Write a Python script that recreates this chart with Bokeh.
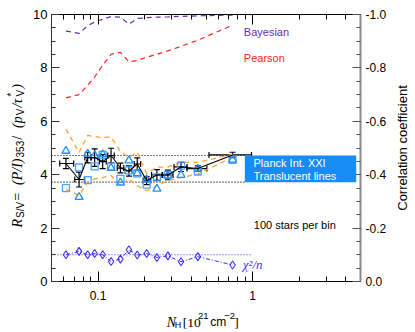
import math
from bokeh.plotting import figure
from bokeh.layouts import row, column
from bokeh.models import (Range1d, LinearAxis, LogAxis, FixedTicker, PrintfTickFormatter,
                          CustomJSTickFormatter, Label, BoxAnnotation, Whisker, TeeHead,
                          ColumnDataSource)
from bokeh.embed import file_html
from bokeh.resources import INLINE

# ---------------- data ----------------
nh = [0.0620, 0.0754, 0.0857, 0.0951, 0.1072, 0.1215, 0.1397, 0.1585,
      0.1795, 0.2065, 0.2405, 0.2834, 0.3446, 0.4430, 0.7430]
nh_lo = [0.0565, 0.0707, 0.0822, 0.0905, 0.1020, 0.1157, 0.1332, 0.1500,
         0.1716, 0.1960, 0.2222, 0.2617, 0.3102, 0.3765, 0.5228]
nh_hi = [0.0696, 0.0820, 0.0899, 0.0997, 0.1131, 0.1274, 0.1467, 0.1664,
         0.1888, 0.2193, 0.2596, 0.3058, 0.3768, 0.5064, 0.9853]
rs = [4.42, 3.82, 4.64, 4.64, 4.49, 4.72, 4.25, 4.14, 4.40, 3.78, 3.99,
      3.99, 4.29, 4.23, 4.74]
rs_err = [0.19, 0.28, 0.20, 0.33, 0.26, 0.27, 0.18, 0.19, 0.23, 0.15, 0.20,
          0.18, 0.17, 0.10, 0.10]
rs_squares = [3.50, 4.27, 3.80, 4.31, 4.74, 4.31, 3.84, 4.16, 4.05, 3.63,
              3.90, 3.99, 4.34, 4.12, 4.56]
rs_triangles = [4.89, 3.16, 4.78, 4.72, 4.76, 4.25, 3.70, 4.53, 4.05, 3.82,
                3.47, 3.97, 3.99, 4.22, 4.56]
rs_orange_hi = [5.71, 4.83, 5.47, 5.43, 5.39, 5.41, 4.87, 4.64, 4.84, 4.04,
                4.28, 4.29, 4.47, 4.46, 4.77]
rs_orange_lo = [3.45, 3.22, 3.72, 3.84, 3.89, 3.97, 3.59, 3.84, 3.59, 3.40,
                3.59, 3.78, 3.89, 4.03, 4.65]
corr_bayes = [-0.938, -0.929, -0.958, -0.972, -0.982, -0.992, -0.990, -0.964,
              -0.985, -0.988, -0.990, -0.991, -0.993, -0.995, -0.998]
corr_pearson = [-0.688, -0.700, -0.735, -0.766, -0.810, -0.851, -0.858, -0.823,
                -0.828, -0.840, -0.851, -0.864, -0.881, -0.904, -0.960]
chi2_n = [1.00, 1.13, 1.00, 1.05, 1.00, 0.75, 0.84, 1.19, 0.99, 1.05, 0.90,
          0.96, 0.74, 0.93, 0.62]
chi2_ref = 1.0
chi2_ref_nh = [0.05, 1.0]
planck_rs = [3.72, 4.72]
planck_line_nh = [0.05, 0.892]
planck_box_nh = [0.892, 4.69]

x_ticks = [0.1, 1]
x_minor = [0.06, 0.07, 0.08, 0.09, 0.2, 0.3, 0.4, 0.5, 0.6, 0.7, 0.8, 0.9,
           2, 3, 4, 5]
y_ticks = [0, 2, 4, 6, 8, 10]
y_minor = [i * 0.5 for i in range(21)]
corr_ticks = [-1.0, -0.8, -0.6, -0.4, -0.2, 0.0]
corr_minor = [-i * 0.05 for i in range(21)]

# ---------------- styling ----------------
SANS = "Liberation Sans"
SERIF = "Liberation Serif"
ORANGE = "#ffa22e"
SQ_BLUE = "#4aa3ff"
TRI_BLUE = "#1f8fff"
CHI_BLUE = "#3c30ff"
BAYES = "#6c2bb0"
PEARSON = "#ff2424"
BOX_BLUE = "#178cf5"

# page geometry
LEFT_W, MAIN_W, RIGHT_W = 26, 365, 23
MAIN_H, BOTTOM_H = 305, 26
TOTAL_H = MAIN_H + BOTTOM_H

p = figure(width=MAIN_W, height=MAIN_H, x_axis_type="log",
           x_range=Range1d(0.05, 5), y_range=Range1d(0, 10),
           output_backend="svg", toolbar_location=None,
           min_border_left=25, min_border_right=31,
           min_border_top=14, min_border_bottom=24)
p.extra_y_ranges = {"corr": Range1d(0.0, -1.0)}
p.xgrid.grid_line_color = None
p.ygrid.grid_line_color = None
p.background_fill_color = "white"
p.border_fill_color = "white"
p.outline_line_color = "black"
p.outline_line_width = 1

xa = p.xaxis[0]
xa.ticker = FixedTicker(ticks=x_ticks, minor_ticks=x_minor)
xa.formatter = CustomJSTickFormatter(code="return String(Number(tick.toPrecision(6)))")
xa.major_tick_in = 10
xa.major_tick_out = 0
xa.minor_tick_in = 5
xa.minor_tick_out = 0
xa.major_label_standoff = 9
xa.major_label_text_font = SANS
xa.major_label_text_font_size = "12px"
xa.major_label_text_color = "black"
xa.axis_line_color = "black"
xa.major_tick_line_color = "black"
xa.minor_tick_line_color = "black"

ya = p.yaxis[0]
ya.ticker = FixedTicker(ticks=y_ticks, minor_ticks=y_minor)
ya.major_tick_in = 8
ya.major_tick_out = 0
ya.minor_tick_in = 4
ya.minor_tick_out = 0
ya.major_label_standoff = 4
ya.major_label_text_font = SANS
ya.major_label_text_font_size = "13px"
ya.major_label_text_color = "black"
ya.axis_line_color = "#333333"
ya.major_tick_line_color = "#333333"
ya.minor_tick_line_color = "#333333"

top = LogAxis(ticker=FixedTicker(ticks=x_ticks, minor_ticks=x_minor),
              major_label_text_font_size="1px", major_label_text_alpha=0.0,
              major_label_standoff=0,
              major_tick_in=10, major_tick_out=0, minor_tick_in=5, minor_tick_out=0,
              axis_line_color="black")
p.add_layout(top, "above")

ra = LinearAxis(y_range_name="corr",
                ticker=FixedTicker(ticks=corr_ticks, minor_ticks=corr_minor),
                formatter=PrintfTickFormatter(format="%.1f"),
                major_tick_in=8, major_tick_out=0, minor_tick_in=4, minor_tick_out=0,
                major_label_standoff=5, major_label_text_font=SANS,
                major_label_text_font_size="12px", major_label_text_color="black",
                axis_line_color="#8a8a8a", axis_line_width=2,
                major_tick_line_color="#555555", minor_tick_line_color="#555555")
p.add_layout(ra, "right")

# ---------------- glyphs ----------------
for v in planck_rs:
    p.line(planck_line_nh, [v, v], line_color="black", line_dash="1 2", line_width=1.2)

p.line(nh, corr_bayes, y_range_name="corr", line_color=BAYES, line_dash="5 4", line_width=1.2)
p.line(nh, corr_pearson, y_range_name="corr", line_color=PEARSON, line_dash="5 4", line_width=1.2)

p.line(nh, rs_orange_hi, line_color=ORANGE, line_dash="5 4", line_width=1.3)
p.line(nh, rs_orange_lo, line_color=ORANGE, line_dash="5 4", line_width=1.3)

p.line(chi2_ref_nh, [chi2_ref, chi2_ref], line_color=CHI_BLUE, line_dash="1 2", line_width=1.1)
p.line(nh, chi2_n, line_color=CHI_BLUE, line_dash="4 2 1 2", line_width=1.0)
p.scatter(nh, chi2_n, marker="diamond", size=8, fill_color=None,
          line_color=CHI_BLUE, line_width=1.1)

p.scatter(nh, rs_squares, marker="square", size=7, fill_color=None,
          line_color=SQ_BLUE, line_width=1.3)
p.scatter(nh, rs_triangles, marker="triangle", size=8, fill_color=None,
          line_color=TRI_BLUE, line_width=1.3)

p.line(nh, rs, line_color="black", line_width=1.1)

p.add_layout(BoxAnnotation(left=planck_box_nh[0], right=planck_box_nh[1],
                           bottom=planck_rs[0], top=planck_rs[1],
                           fill_color=BOX_BLUE, fill_alpha=1.0, line_alpha=0))

src = ColumnDataSource(dict(nh=nh, lo=nh_lo, hi=nh_hi, rs=rs,
                            up=[r + e for r, e in zip(rs, rs_err)],
                            dn=[r - e for r, e in zip(rs, rs_err)]))
p.add_layout(Whisker(source=src, base="nh", upper="up", lower="dn", dimension="height",
                     line_color="black", line_width=1.2,
                     upper_head=TeeHead(size=6, line_color="black", line_width=1.2),
                     lower_head=TeeHead(size=6, line_color="black", line_width=1.2)))
p.add_layout(Whisker(source=src, base="rs", upper="hi", lower="lo", dimension="width",
                     line_color="black", line_width=1.2,
                     upper_head=TeeHead(size=6, line_color="black", line_width=1.2),
                     lower_head=TeeHead(size=6, line_color="black", line_width=1.2)))


def dlabel(fig, x, y, text, color="black", size="11px", font=SANS, style="normal",
           baseline="middle", align="left", angle=0.0):
    fig.add_layout(Label(x=x, y=y, text=text, text_color=color, text_font=font,
                         text_font_size=size, text_font_style=style, angle=angle,
                         text_align=align, text_baseline=baseline))


dlabel(p, 0.879, 9.34, "Bayesian", BAYES)
dlabel(p, 0.879, 8.36, "Pearson", PEARSON)
dlabel(p, 1.015, 4.43, "Planck Int. XXI", "white")
dlabel(p, 1.015, 3.94, "Translucent lines", "white")
dlabel(p, 1.02, 2.13, "100 stars per bin", "black")
dlabel(p, 0.865, 0.63, "χ²/n", CHI_BLUE, size="13px", font=SERIF, style="italic",
       baseline="alphabetic")


# ---------------- auxiliary text panels (page-pixel coordinates) ----------------
def panel(w, h):
    f = figure(width=w, height=h, x_range=Range1d(0, w), y_range=Range1d(0, h),
               output_backend="svg", toolbar_location=None, min_border=0,
               x_axis_location=None, y_axis_location=None)
    f.grid.visible = False
    f.outline_line_color = None
    f.background_fill_color = "white"
    f.border_fill_color = "white"
    return f


# left: R_S/V = (P/I)_353 / (p_V / tau*_V)
left = panel(LEFT_W, TOTAL_H)
MAIN, SUB = 14, 10
base_x = 16.7
pieces = [("R", "it", 0.611), ("S/V", "sub", 1.612), (" = ", "rm", 1.064),
          ("(P/I)", "it", 1.888), ("353", "sub", 1.668), (" / ", "rm", 0.778),
          ("(p", "it", 0.833), ("V", "sub", 0.667), ("/τ", "it", 0.718),
          ("*|V", "supsub", 0.667), (")", "it", 0.333)]
yy = TOTAL_H - 227
gap = 1
ang = math.pi / 2
for text, kind, em in pieces:
    if kind == "it":
        dlabel(left, base_x, yy, text, size=f"{MAIN}px", font=SERIF, style="italic",
               baseline="alphabetic", angle=ang)
        yy += em * MAIN + gap
    elif kind == "rm":
        dlabel(left, base_x, yy, text, size=f"{MAIN}px", font=SERIF,
               baseline="alphabetic", angle=ang)
        yy += em * MAIN + gap
    elif kind == "sub":
        dlabel(left, base_x + 3, yy, text, size=f"{SUB}px", font=SANS,
               baseline="alphabetic", angle=ang)
        yy += em * SUB + gap
    else:
        sup, sub = text.split("|")
        dlabel(left, base_x - 6, yy, sup, size=f"{SUB}px", font=SANS,
               baseline="alphabetic", angle=ang)
        dlabel(left, base_x + 3, yy, sub, size=f"{SUB}px", font=SANS,
               baseline="alphabetic", angle=ang)
        yy += em * SUB + gap

# right: Correlation coefficient
right = panel(RIGHT_W, TOTAL_H)
dlabel(right, 402 - (LEFT_W + MAIN_W), TOTAL_H - 147.5, "Correlation coefficient",
       size="13px", baseline="alphabetic", align="center", angle=ang)

# bottom: N_H [10^21 cm^-2]
bottom = panel(MAIN_W, BOTTOM_H)
bx0 = LEFT_W
by = TOTAL_H - 321.5
dlabel(bottom, 162 - bx0, by, "N", size="14px", font=SERIF, style="italic", baseline="alphabetic")
dlabel(bottom, 171.5 - bx0, by - 3, "H", size="9px", baseline="alphabetic")
dlabel(bottom, 181 - bx0, by, "[10", size="13.5px", font=SERIF, baseline="alphabetic")
dlabel(bottom, 199 - bx0, by + 6, "21", size="9.5px", baseline="alphabetic")
dlabel(bottom, 213.5 - bx0, by, "cm", size="12px", baseline="alphabetic")
dlabel(bottom, 230 - bx0, by + 6, "−2", size="9.5px", baseline="alphabetic")
dlabel(bottom, 242 - bx0, by, "]", size="13.5px", font=SERIF, baseline="alphabetic")

layout = row(left, column(p, bottom), right)

open("out.html", "w").write(file_html(layout, INLINE))
